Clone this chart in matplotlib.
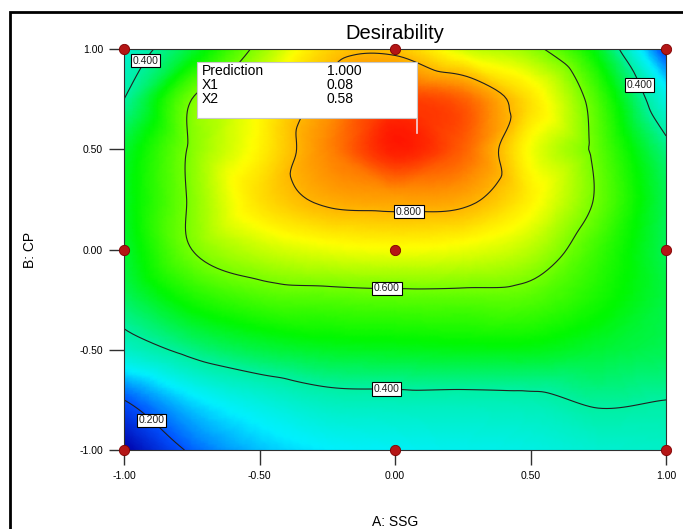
"""Desirability contour plot (A: SSG vs B: CP) in Design-Expert style."""

import matplotlib

matplotlib.use("Agg")
import matplotlib.pyplot as plt
import matplotlib.tri as mtri
import numpy as np
from matplotlib.colors import LinearSegmentedColormap
from matplotlib.patches import Rectangle

plt.rcParams["font.family"] = ["Liberation Sans", "DejaVu Sans"]

# coded factor levels of the read-off grid
a_levels = [-1.0, -0.75, -0.5, -0.25, 0.0, 0.25, 0.5, 0.75, 1.0]
b_levels = [-1.0, -0.75, -0.5, -0.25, 0.0, 0.25, 0.5, 0.75, 1.0]

# desirability, one row per B level (B = -1 ... 1)
desirability = [
    [0.08, 0.21, 0.27, 0.30, 0.31, 0.32, 0.33, 0.35, 0.36],
    [0.20, 0.29, 0.34, 0.375, 0.38, 0.38, 0.385, 0.41, 0.40],
    [0.36, 0.42, 0.46, 0.48, 0.485, 0.49, 0.49, 0.47, 0.45],
    [0.44, 0.52, 0.56, 0.57, 0.575, 0.575, 0.57, 0.52, 0.46],
    [0.47, 0.60, 0.66, 0.69, 0.70, 0.69, 0.65, 0.55, 0.45],
    [0.48, 0.61, 0.745, 0.815, 0.83, 0.82, 0.72, 0.59, 0.45],
    [0.47, 0.61, 0.72, 0.86, 0.97, 0.90, 0.70, 0.58, 0.42],
    [0.40, 0.60, 0.70, 0.83, 0.93, 0.90, 0.74, 0.56, 0.33],
    [0.35, 0.47, 0.62, 0.76, 0.78, 0.67, 0.62, 0.48, 0.18],
]

contour_levels = [0.2, 0.4, 0.6, 0.8]
# rough spots where each contour label sits
label_a = [-0.92, 0.92, 0.05, -0.03, -0.03, -0.89]
label_b = [0.94, 0.83, 0.22, -0.19, -0.68, -0.84]

# design points of the 3x3 factorial
design_a = [-1, 0, 1, -1, 0, 1, -1, 0, 1]
design_b = [-1, -1, -1, 0, 0, 0, 1, 1, 1]

tick_values = [-1.0, -0.5, 0.0, 0.5, 1.0]
tick_labels = ["-1.00", "-0.50", "0.00", "0.50", "1.00"]

pred_value = 1.000
pred_x1 = 0.08
pred_x2 = 0.58

cmap = LinearSegmentedColormap.from_list(
    "dx",
    [
        (0.00, "#0000a8"),
        (0.13, "#0050ff"),
        (0.24, "#00f0ff"),
        (0.35, "#00f0a0"),
        (0.46, "#00f800"),
        (0.56, "#70ff00"),
        (0.68, "#ffff00"),
        (0.84, "#ff9000"),
        (1.00, "#ff0000"),
    ],
)

fig = plt.figure(figsize=(6.83, 5.29), dpi=100)
ax = fig.add_axes([0.1816, 0.1493, 0.7936, 0.758])

A, B = np.meshgrid(a_levels, b_levels)
Z = np.asarray(desirability)
tri = mtri.Triangulation(A.ravel(), B.ravel())
interp = mtri.CubicTriInterpolator(tri, Z.ravel(), kind="geom")
refiner = mtri.UniformTriRefiner(tri)
tri_f, z_f = refiner.refine_field(Z.ravel(), interp, subdiv=4)

ax.tripcolor(tri_f, z_f, shading="gouraud", cmap=cmap, vmin=0.08, vmax=1.0)
cs = ax.tricontour(tri_f, z_f, levels=contour_levels, colors="#202020", linewidths=0.8)
labels = ax.clabel(cs, fmt="%.3f", manual=list(zip(label_a, label_b)),
                   inline=False, fontsize=7.5)
for t in labels:
    t.set_rotation(0)
    t.set_bbox(dict(facecolor="white", edgecolor="black", linewidth=0.8, pad=1.2))

ax.scatter(design_a, design_b, s=55, color="#b41616", edgecolor="#800000",
           linewidth=0.6, zorder=6, clip_on=False)

# prediction flag
box_w, box_h, box_gap = 0.812, 0.279, 0.076
ax.plot([pred_x1, pred_x1], [pred_x2, pred_x2 + box_gap], color="#f4d6dc",
        linewidth=1.2, zorder=7)
box_left = pred_x1 - box_w
box_bottom = pred_x2 + box_gap
ax.add_patch(Rectangle((box_left, box_bottom), box_w, box_h, facecolor="white",
                       edgecolor="#c8c8c8", linewidth=0.8, zorder=7))
rows = [("Prediction", f"{pred_value:.3f}"), ("X1", f"{pred_x1:.2f}"), ("X2", f"{pred_x2:.2f}")]
for i, (name, val) in enumerate(rows):
    yy = box_bottom + box_h - 0.045 - i * 0.07
    ax.text(box_left + 0.02, yy, name, fontsize=10, va="center", zorder=8)
    ax.text(box_left + 0.48, yy, val, fontsize=10, va="center", zorder=8)

ax.set_xlim(-1, 1)
ax.set_ylim(-1, 1)
ax.set_xticks(tick_values)
ax.set_xticklabels(tick_labels)
ax.set_yticks(tick_values)
ax.set_yticklabels(tick_labels)
ax.tick_params(direction="out", length=11, width=1, color="#303030",
               labelsize=7.5, pad=4)
for s in ax.spines.values():
    s.set_color("#303030")
    s.set_linewidth(0.8)

ax.set_title("Desirability", fontsize=14.5, pad=7)
ax.set_xlabel("A: SSG", fontsize=10)
ax.set_ylabel("B: CP", fontsize=10)
ax.xaxis.set_label_coords(0.5, -0.162)
ax.yaxis.set_label_coords(-0.160, 0.5)

fig.patches.append(Rectangle((10 / 683, -0.05), 1.1, 0.9773 + 0.05, fill=False,
                             edgecolor="black", linewidth=2,
                             transform=fig.transFigure, figure=fig))

fig.savefig("out.png", dpi=100)
